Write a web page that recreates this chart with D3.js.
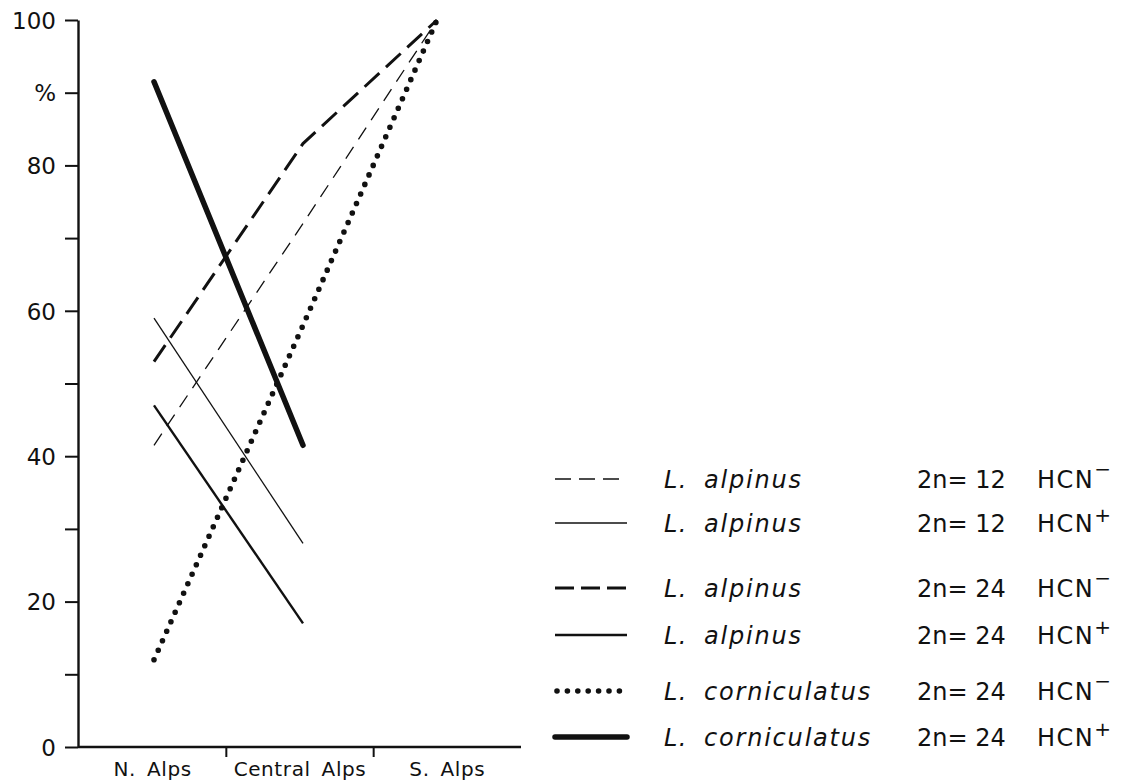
<!DOCTYPE html>
<html>
<head>
<meta charset="utf-8">
<script src="https://cdn.jsdelivr.net/npm/d3@7"></script>
<style>
  body { margin: 0; background: #fff; }
  svg { display: block; }
  text { font-family: "DejaVu Sans", sans-serif; fill: #111; }
</style>
</head>
<body>
<div id="chart"></div>
<script>
// regions along the x axis
const regions = ["N. Alps", "Central Alps", "S. Alps"];

// % values per region (null = not sampled)
const alpinus12Neg = [41.5, 72, 100];
const alpinus12Pos = [59, 28, null];
const alpinus24Neg = [53, 83, 100];
const alpinus24Pos = [47, 17, null];
const cornic24Neg  = [12, 58, 100];
const cornic24Pos  = [91.5, 41.5, null];

// legend text
const species  = ["alpinus", "alpinus", "alpinus", "alpinus", "corniculatus", "corniculatus"];
const ploidy   = ["2n= 12", "2n= 12", "2n= 24", "2n= 24", "2n= 24", "2n= 24"];
const hcnSign  = ["\u2212", "+", "\u2212", "+", "\u2212", "+"];

const yTicks = [0, 10, 20, 30, 40, 50, 60, 70, 80, 90, 100];

const width = 1125, height = 780;

const svg = d3.select("#chart").append("svg")
  .attr("width", width)
  .attr("height", height);

const y = d3.scaleLinear().domain([0, 100]).range([747, 20]);
const xBand = d3.scaleBand().domain(regions).range([79, 521]);
const x = d3.scaleOrdinal().domain(regions).range([154, 303, 437]);

// line styles for each series, same order as legend
const styles = [
  { w: 1.3, dash: "14,9",  cap: "butt" },
  { w: 1.3, dash: null,    cap: "butt" },
  { w: 3,   dash: "20,9",  cap: "butt" },
  { w: 2.4, dash: null,    cap: "butt" },
  { w: 5.6, dash: "0,10.4", cap: "round" },
  { w: 5.5, dash: null,    cap: "round" }
];
const seriesValues = [alpinus12Neg, alpinus12Pos, alpinus24Neg, alpinus24Pos, cornic24Neg, cornic24Pos];

// y axis
const yAxis = d3.axisLeft(y)
  .tickValues(yTicks)
  .tickSizeInner(13)
  .tickSizeOuter(0)
  .tickPadding(9)
  .tickFormat(d => d === 90 ? "%" : (d % 20 === 0 ? d : ""));

const gy = svg.append("g")
  .attr("transform", "translate(78,0)")
  .call(yAxis);
gy.select(".domain").attr("stroke", "#111").attr("stroke-width", 2.4);
gy.selectAll(".tick line").attr("stroke", "#111").attr("stroke-width", 2);
gy.selectAll(".tick text")
  .style("font-size", "23px")
  .style("font-family", "'DejaVu Sans', sans-serif")
  .attr("dy", "0.36em");

// x axis line
svg.append("line")
  .attr("x1", 78).attr("x2", xBand.range()[1])
  .attr("y1", y(0)).attr("y2", y(0))
  .attr("stroke", "#111").attr("stroke-width", 2.4);

// x ticks between regions
svg.selectAll(".xtick")
  .data(regions.slice(1))
  .join("line")
  .attr("class", "xtick")
  .attr("x1", d => xBand(d)).attr("x2", d => xBand(d))
  .attr("y1", y(0)).attr("y2", y(0) + 10)
  .attr("stroke", "#111").attr("stroke-width", 2);

svg.selectAll(".xlabel")
  .data(regions)
  .join("text")
  .attr("class", "xlabel")
  .attr("x", d => xBand(d) + xBand.bandwidth() / 2)
  .attr("y", 776)
  .attr("text-anchor", "middle")
  .style("font-size", "20px")
  .style("letter-spacing", "0.6px")
  .style("word-spacing", "4px")
  .text(d => d);

// data lines
const line = d3.line()
  .defined(d => d.v !== null)
  .x(d => x(d.r))
  .y(d => y(d.v));

svg.selectAll(".series")
  .data(seriesValues)
  .join("path")
  .attr("class", "series")
  .attr("fill", "none")
  .attr("stroke", "#111")
  .attr("stroke-width", (d, i) => styles[i].w)
  .attr("stroke-dasharray", (d, i) => styles[i].dash)
  .attr("stroke-linecap", (d, i) => styles[i].cap)
  .attr("d", d => line(d.map((v, j) => ({ r: regions[j], v: v }))));

// legend
const rowY = [479, 523, 588, 635, 691, 737];

const leg = svg.selectAll(".leg")
  .data(species)
  .join("g")
  .attr("class", "leg")
  .attr("transform", (d, i) => `translate(0,${rowY[i]})`);

leg.append("line")
  .attr("x1", (d, i) => i === 4 ? 557 : 555)
  .attr("x2", (d, i) => i === 4 ? 622 : 627)
  .attr("stroke", "#111")
  .attr("stroke-width", (d, i) => styles[i].w)
  .attr("stroke-dasharray", (d, i) => i === 0 ? "16,8" : i === 2 ? "19,7" : styles[i].dash)
  .attr("stroke-linecap", (d, i) => styles[i].cap);

leg.append("text")
  .attr("x", 664)
  .attr("y", 9)
  .style("font-size", "24px")
  .style("font-style", "italic")
  .style("letter-spacing", "1.5px")
  .text(d => "L.");

leg.append("text")
  .attr("x", 704)
  .attr("y", 9)
  .style("font-size", "24px")
  .style("font-style", "italic")
  .style("letter-spacing", "1.8px")
  .text(d => d);

leg.append("text")
  .attr("x", 917)
  .attr("y", 9)
  .style("font-size", "24px")
  .text((d, i) => ploidy[i]);

const hcn = leg.append("text")
  .attr("x", 1037)
  .attr("y", 9)
  .style("font-size", "24px")
  .style("letter-spacing", "1.5px");
hcn.append("tspan").text("HCN");
hcn.append("tspan")
  .attr("dy", (d, i) => hcnSign[i] === "+" ? -10 : -12)
  .style("font-size", "20px")
  .text((d, i) => hcnSign[i]);
</script>
</body>
</html>
